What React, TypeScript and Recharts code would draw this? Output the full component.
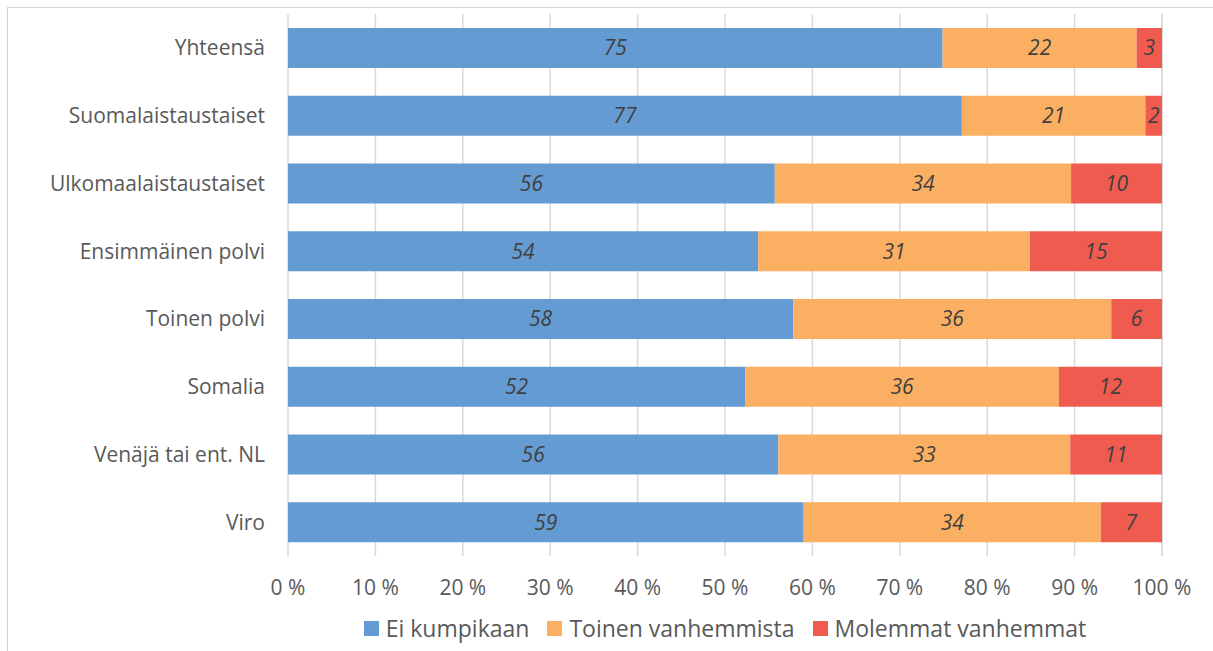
import React from 'react';
import { BarChart, Bar, XAxis, YAxis, CartesianGrid, Legend, LabelList } from 'recharts';

const categories = [
  'Yhteensä',
  'Suomalaistaustaiset',
  'Ulkomaalaistaustaiset',
  'Ensimmäinen polvi',
  'Toinen polvi',
  'Somalia',
  'Venäjä tai ent. NL',
  'Viro',
];
const eiKumpikaan = [74.9, 77.1, 55.7, 53.8, 57.8, 52.3, 56.1, 59.0];
const toinenVanhemmista = [22.2, 21.0, 33.9, 31.1, 36.4, 35.9, 33.4, 34.0];
const molemmatVanhemmat = [2.9, 1.9, 10.4, 15.1, 5.8, 11.8, 10.5, 7.0];
const xTicks = [0, 10, 20, 30, 40, 50, 60, 70, 80, 90, 100];

const seriesNames = ['Ei kumpikaan', 'Toinen vanhemmista', 'Molemmat vanhemmat'];
const seriesColors = ['#659BD3', '#FBAF62', '#F05B50'];

const data = categories.map((name, i) => ({
  name,
  a: eiKumpikaan[i],
  b: toinenVanhemmista[i],
  c: molemmatVanhemmat[i],
}));

const FONT = '"Open Sans", "Noto Sans", sans-serif';

const labelProps = {
  position: 'center' as const,
  fill: '#404040',
  fontSize: 21,
  fontStyle: 'italic',
  fontFamily: FONT,
  formatter: (v: any) => Math.round(Number(v)),
};

const LegendContent = () => (
  <div
    style={{
      display: 'flex',
      justifyContent: 'center',
      alignItems: 'center',
      fontFamily: FONT,
      fontSize: 23,
      color: '#595959',
      lineHeight: '32px',
    }}
  >
    {seriesNames.map((n, i) => (
      <div key={n} style={{ display: 'flex', alignItems: 'center', marginRight: i < 2 ? 18 : 0 }}>
        <span style={{ width: 15, height: 15, background: seriesColors[i], display: 'inline-block', marginRight: 7 }} />
        <span>{n}</span>
      </div>
    ))}
  </div>
);

export default function App() {
  return (
    <div
      style={{
        position: 'absolute',
        left: 7,
        top: 7,
        borderLeft: '1px solid #D4D4D4',
        borderTop: '1px solid #D4D4D4',
        width: 1205,
        height: 643,
        background: '#fff',
      }}
    >
      <BarChart
        width={1205}
        height={643}
        data={data}
        layout="vertical"
        margin={{ top: 6, right: 51, left: 0, bottom: 23 }}
        barSize={40}
      >
        <CartesianGrid horizontal={false} stroke="#D9D9D9" strokeWidth={1.5} />
        <XAxis
          type="number"
          domain={[0, 100]}
          ticks={xTicks}
          tickFormatter={(v: number) => `${v} %`}
          axisLine={false}
          tickLine={false}
          tickSize={0}
          tickMargin={24}
          height={40}
          tick={{ fill: '#595959', fontSize: 21, fontFamily: FONT }}
          interval={0}
        />
        <YAxis
          type="category"
          dataKey="name"
          width={280}
          axisLine={false}
          tickLine={false}
          tickSize={0}
          tickMargin={23}
          tick={{ fill: '#595959', fontSize: 21, fontFamily: FONT }}
          interval={0}
        />
        <Legend
          verticalAlign="bottom"
          content={<LegendContent />}
          wrapperStyle={{ position: 'absolute', top: 604, left: 280, width: 874, height: 32, bottom: 'auto' }}
        />
        <Bar dataKey="a" stackId="s" name={seriesNames[0]} fill={seriesColors[0]} isAnimationActive={false}>
          <LabelList dataKey="a" {...labelProps} />
        </Bar>
        <Bar dataKey="b" stackId="s" name={seriesNames[1]} fill={seriesColors[1]} isAnimationActive={false}>
          <LabelList dataKey="b" {...labelProps} />
        </Bar>
        <Bar dataKey="c" stackId="s" name={seriesNames[2]} fill={seriesColors[2]} isAnimationActive={false}>
          <LabelList dataKey="c" {...labelProps} />
        </Bar>
      </BarChart>
    </div>
  );
}
